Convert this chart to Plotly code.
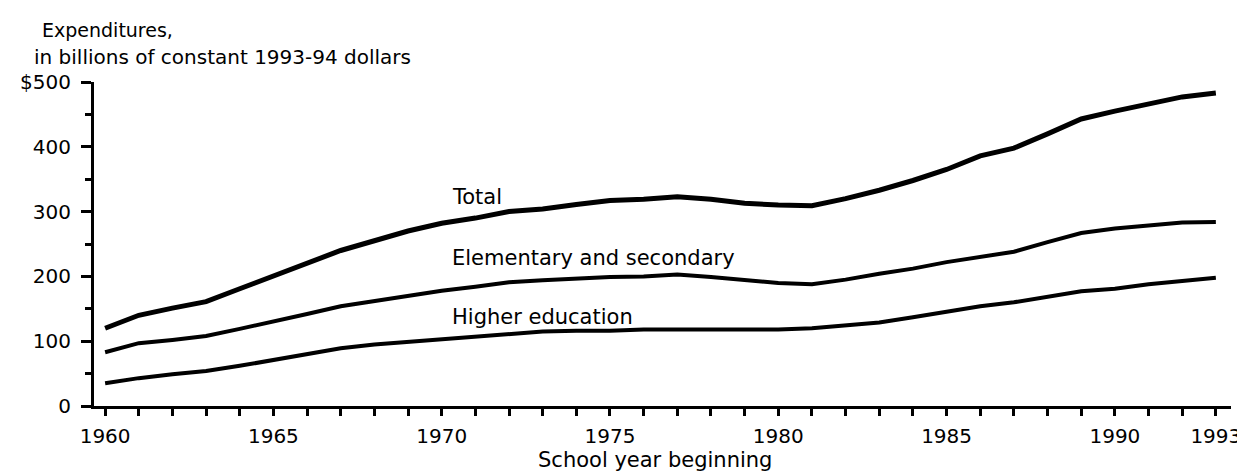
import plotly.graph_objects as go

years = list(range(1960, 1994))
total = [120, 140, 151, 161, 181, 200, 220, 240, 255, 270, 282, 290, 300, 304, 311, 317, 319, 323, 319, 313,
         310, 309, 320, 333, 348, 365, 386, 398, 420, 443, 455, 466, 477, 483]
elem_sec = [83, 97, 102, 108, 119, 130, 142, 154, 162, 170, 178, 184, 191, 194, 197, 199, 200, 203, 199, 194,
            190, 188, 195, 204, 212, 222, 230, 238, 253, 267, 274, 278, 283, 284]
higher = [35, 43, 49, 54, 62, 71, 80, 89, 95, 99, 103, 108, 112, 115, 116, 116, 118, 118, 118, 118,
          118, 120, 124, 129, 137, 145, 154, 160, 168, 177, 181, 188, 193, 198]

x_labeled = [1960, 1965, 1970, 1975, 1980, 1985, 1990, 1993]
x_ticktext = [str(y) if y in x_labeled else "" for y in years]
y_tickvals = [0, 100, 200, 300, 400, 500]
y_ticktext = ["0", "100", "200", "300", "400", "$500"]

series_labels = [("Total", 1970.26, 323), ("Elementary and secondary", 1970.26, 228), ("Higher education", 1970.26, 137.5)]

FONT = "DejaVu Sans"

fig = go.Figure()
fig.add_trace(go.Scatter(x=years, y=total, mode="lines", line=dict(color="black", width=5)))
fig.add_trace(go.Scatter(x=years, y=elem_sec, mode="lines", line=dict(color="black", width=4)))
fig.add_trace(go.Scatter(x=years, y=higher, mode="lines", line=dict(color="black", width=4)))

for text, xv, yv in series_labels:
    fig.add_annotation(x=xv, y=yv, text=text, showarrow=False, xanchor="left", yanchor="middle",
                       font=dict(family=FONT, size=21, color="black"))

fig.add_annotation(xref="paper", yref="paper", x=-0.0472, y=1.160, text="Expenditures,", showarrow=False,
                   xanchor="left", yanchor="middle", font=dict(family=FONT, size=19, color="black"))
fig.add_annotation(xref="paper", yref="paper", x=-0.0541, y=1.077, text="in billions of constant 1993-94 dollars",
                   showarrow=False, xanchor="left", yanchor="middle", font=dict(family=FONT, size=20, color="black"))
fig.add_annotation(xref="paper", yref="paper", x=0.493, y=-0.167, text="School year beginning", showarrow=False,
                   xanchor="center", yanchor="middle", font=dict(family=FONT, size=21, color="black"))

fig.update_layout(
    width=1245, height=475,
    margin=dict(l=83, r=17, t=74, b=77),
    plot_bgcolor="white", paper_bgcolor="white",
    showlegend=False,
    font=dict(family=FONT, size=20, color="black"),
)
fig.update_xaxes(range=[1959.67, 1993.45], tickvals=years, ticktext=x_ticktext, ticks="outside", ticklen=7,
                 tickwidth=2.5, tickcolor="black", showline=True, linecolor="black", linewidth=3,
                 showgrid=False, zeroline=False, tickfont=dict(family=FONT, size=20, color="black"),
                 ticklabelstandoff=3)
fig.update_yaxes(range=[0, 500], tickvals=y_tickvals, ticktext=y_ticktext, ticks="outside", ticklen=10,
                 tickwidth=2.5, tickcolor="black", showline=True, linecolor="black", linewidth=3,
                 showgrid=False, zeroline=False, tickfont=dict(family=FONT, size=20, color="black"),
                 ticklabelstandoff=6,
                 minor=dict(dtick=50, ticks="outside", ticklen=6, tickwidth=2.5, tickcolor="black", showgrid=False))

fig.write_html("out.html")
